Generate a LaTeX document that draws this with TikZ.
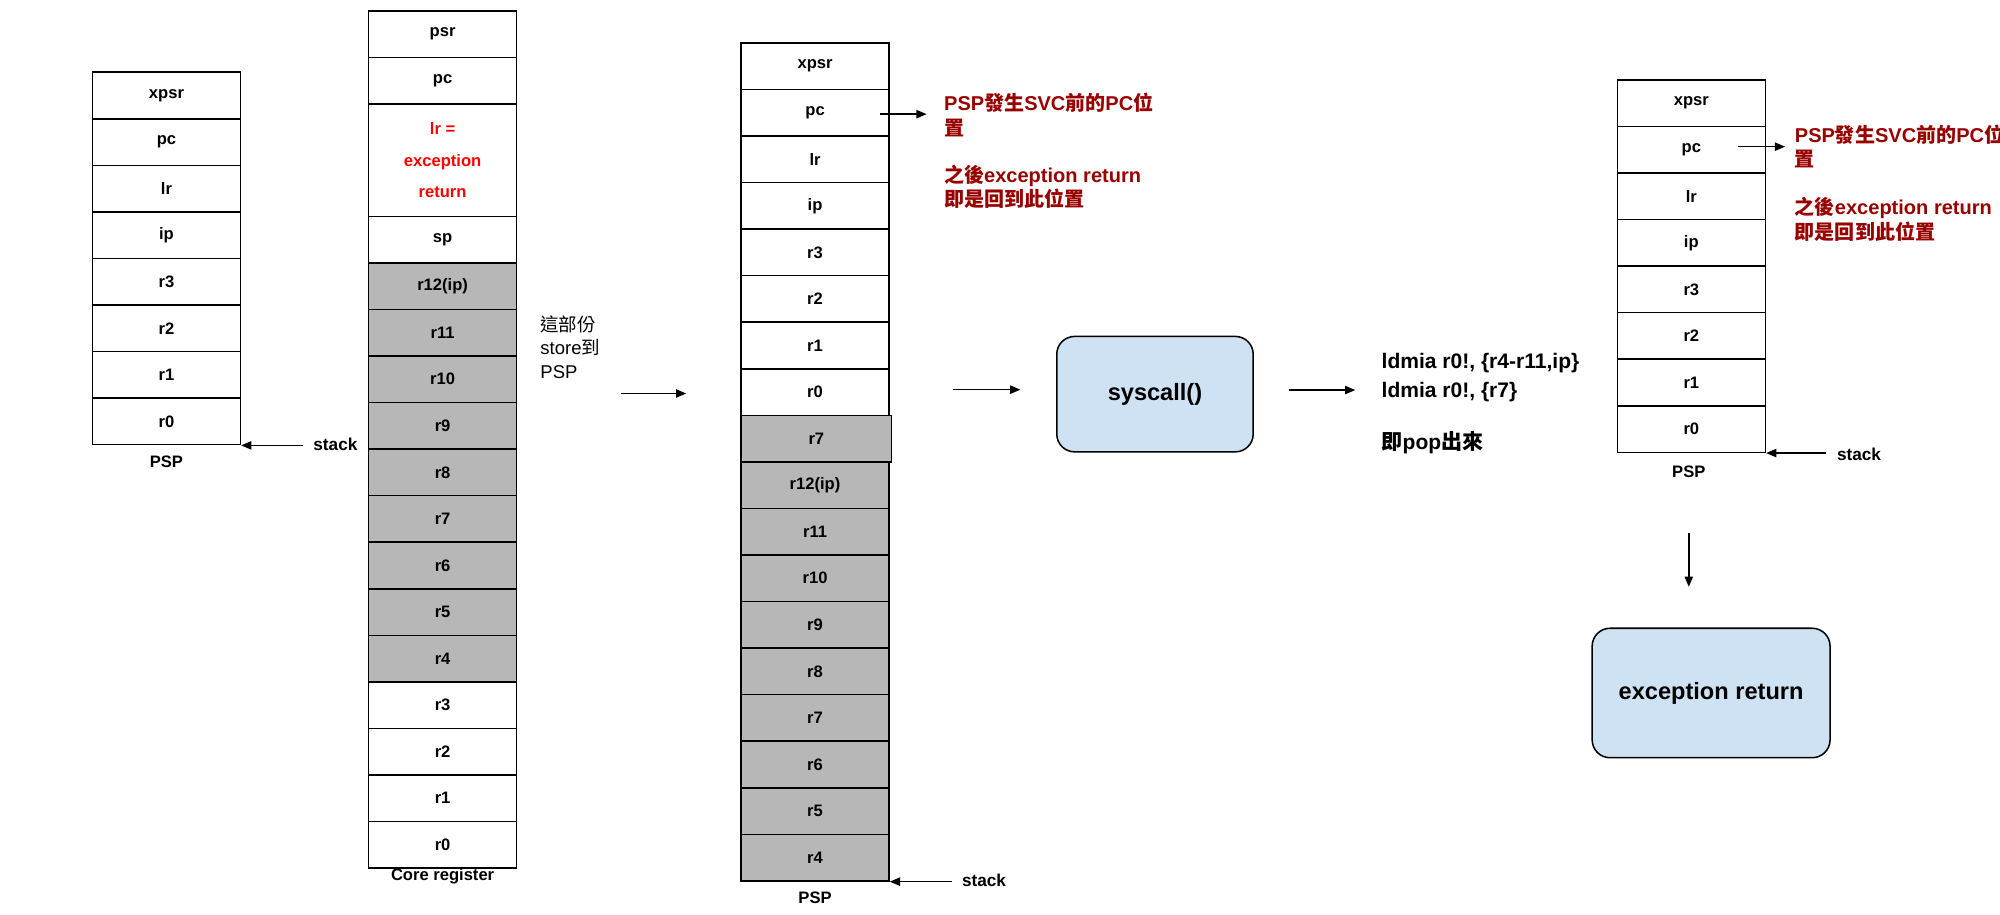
\documentclass[tikz,border=0pt]{standalone}
\usepackage{fontspec}
\setmainfont{Liberation Sans}
\newfontfamily\cjk{Noto Sans CJK TC}
\usetikzlibrary{arrows.meta}
\definecolor{gfill}{HTML}{B7B7B7}
\definecolor{lblue}{HTML}{CFE2F3}
\definecolor{dred}{HTML}{990000}
\definecolor{bred}{HTML}{FF0000}
\begin{document}
\begin{tikzpicture}[x=1pt,y=-1pt,
  cell/.style={draw, line width=1.2pt, minimum width=116pt, minimum height=36.5pt,
    inner sep=0pt, anchor=north, font=\fontsize{13}{15}\selectfont\bfseries},
  gcell/.style={cell, fill=gfill},
  lbl/.style={inner sep=0pt, font=\fontsize{13}{15}\selectfont\bfseries},
  stk/.style={inner sep=0pt, anchor=west, font=\fontsize{13.5}{15}\selectfont\bfseries},
  arr/.style={line width=1.1pt, -{Triangle[length=8pt,width=6.5pt]}},
  redtxt/.style={inner sep=0pt, anchor=west, align=left, text=dred,
    font=\fontsize{15.7}{19.2}\selectfont\bfseries},
  proc/.style={draw, line width=1.2pt, fill=lblue, rounded corners=14pt,
    font=\fontsize{18.5}{22}\selectfont\bfseries},
  code/.style={inner sep=0pt, anchor=west, font=\fontsize{16.5}{20}\selectfont\bfseries}]
\useasboundingbox (0,0) rectangle (1568,716.6);

% ---- column A : PSP
\foreach \t [count=\i] in {xpsr,pc,lr,ip,r3,r2,r1,r0}
  \node[cell] (a\i) at (130.5,{56+36.5*(\i-1)}) {\t};
\node[lbl] (aL) at (130.5,362) {PSP};
\node[stk] (aS) at (245.5,348) {stack};
\draw[arr] ([xshift=-8pt]aS.west |- a8.south east) -- (a8.south east);

% ---- column B : Core register
\node[cell] (b1) at (347,8) {psr};
\node[cell] (b2) at (347,44.5) {pc};
\node[cell, minimum height=88pt, text=bred, align=center,
  font=\fontsize{13}{24.8}\selectfont\bfseries] (b3) at (347,81) {lr =\\exception\\return};
\node[cell] (b4) at (347,169) {sp};
\foreach \t [count=\i] in {r12(ip),r11,r10,r9,r8,r7,r6,r5,r4}
  \node[gcell] (bg\i) at (347,{205.5+36.5*(\i-1)}) {\t};
\foreach \t [count=\i] in {r3,r2,r1,r0}
  \node[cell] (bw\i) at (347,{534+36.5*(\i-1)}) {\t};
\node[lbl] (bL) at (347,687) {Core register};

\node[inner sep=0pt, anchor=west, align=left, font=\fontsize{14.5}{18.5}\selectfont] (note)
  at (423.5,272) {{\cjk 這部份}\\store{\cjk 到}\\PSP};
\coordinate (m1s) at (487,308.5);
\coordinate (m1e) at (538,308.5);
\draw[arr] (m1s) -- (m1e);

% ---- column C : PSP after store
\foreach \t [count=\i] in {xpsr,pc,lr,ip,r3,r2,r1,r0}
  \node[cell] (c\i) at (639,{33+36.5*(\i-1)}) {\t};
\node[gcell, minimum width=118pt] (c9) at (640,325) {r7};
\foreach \t [count=\i] in {r12(ip),r11,r10,r9,r8,r7,r6,r5,r4}
  \node[gcell] (cg\i) at (639,{361.5+36.5*(\i-1)}) {\t};
\node[lbl] (cL) at (639,704) {PSP};
\node[stk] (cS) at (754,690) {stack};
\draw[arr] ([xshift=-8pt]cS.west |- cg9.south east) -- (cg9.south east);

\coordinate (pcCend) at (726.5,89.5);
\draw[arr] ([xshift=-8pt]c2.east |- pcCend) -- (pcCend);
\node[redtxt] (rc1) at (740,90) {PSP{\cjk 發生}SVC{\cjk 前的}PC{\cjk 位}\\{\cjk 置}};
\node[redtxt] (rc2) at (740,146.4) {{\cjk 之後}exception return\\{\cjk 即是回到此位置}};

% ---- syscall
\coordinate (m2s) at (747,305.5);
\coordinate (m2e) at (800,305.5);
\draw[arr] (m2s) -- (m2e);
\node[proc, minimum width=154pt, minimum height=90.5pt] (sys) at (905.5,309) {syscall()};
\coordinate (m3s) at (1010.7,305.8);
\coordinate (m3e) at (1062.5,305.8);
\draw[arr] (m3s) -- (m3e);

\node[code] (ld1) at (1083,284.5) {ldmia r0!, \{r4-r11,ip\}};
\node[code] (ld2) at (1083,307) {ldmia r0!, \{r7\}};
\node[code] (pop) at (1083,347) {{\cjk 即}pop{\cjk 出來}};

% ---- column D : PSP after pop
\foreach \t [count=\i] in {xpsr,pc,lr,ip,r3,r2,r1,r0}
  \node[cell] (d\i) at (1326,{62+36.5*(\i-1)}) {\t};
\node[lbl] (dL) at (1324,370) {PSP};
\node[stk] (dS) at (1440,356) {stack};
\draw[arr] ([xshift=-8.5pt]dS.west |- d8.south east) -- (d8.south east);

\coordinate (pcDend) at (1399.5,115);
\draw[arr] ([xshift=-22pt]d2.east |- pcDend) -- (pcDend);
\node[redtxt] (rd1) at (1407,115) {PSP{\cjk 發生}SVC{\cjk 前的}PC{\cjk 位}\\{\cjk 置}};
\node[redtxt] (rd2) at (1407,172) {{\cjk 之後}exception return\\{\cjk 即是回到此位置}};

% ---- exception return
\coordinate (m4s) at (1324,417.6);
\coordinate (m4e) at (1324,460);
\draw[arr] (m4s) -- (m4e);
\node[proc, minimum width=186.5pt, minimum height=101.5pt] (exr) at (1341.5,543.3) {exception return};
\end{tikzpicture}
\end{document}
